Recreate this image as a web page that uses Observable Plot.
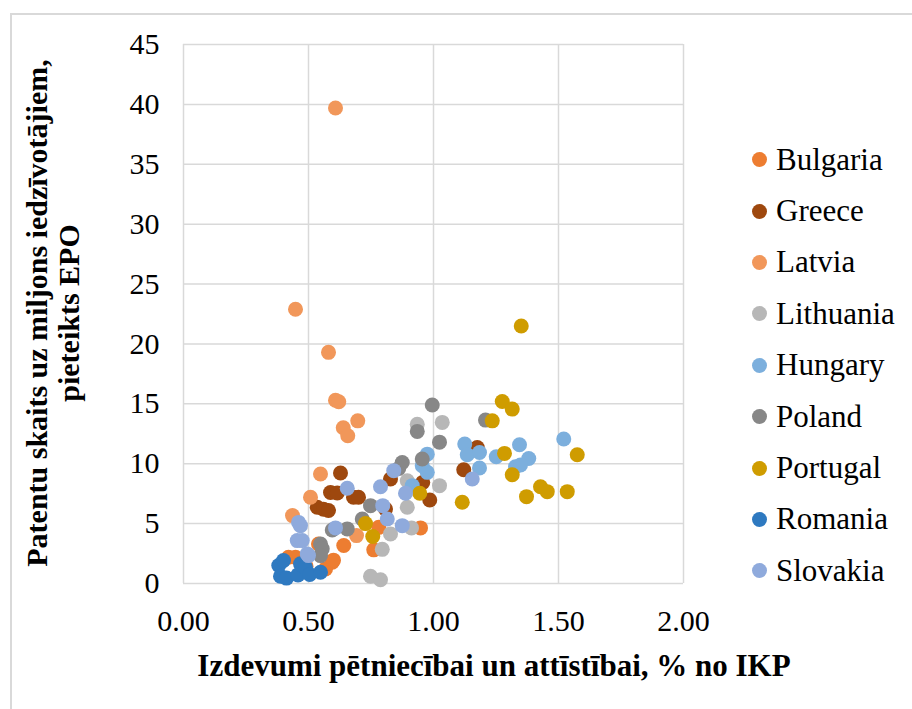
<!DOCTYPE html>
<html>
<head>
<meta charset="utf-8">
<script src="https://cdn.jsdelivr.net/npm/d3@7"></script>
<script src="https://cdn.jsdelivr.net/npm/@observablehq/plot@0.6"></script>
<style>
  html, body { margin: 0; padding: 0; background: #fff; }
  #wrap { position: relative; width: 912px; height: 709px; overflow: hidden; font-family: "Liberation Serif", "Times New Roman", serif; color: #000; }
  #chart { position: absolute; left: 0; top: 0; }
  #frame { position: absolute; left: 10px; top: 13px; width: 1000px; height: 800px; border-left: 2px solid #D9D9D9; border-top: 2px solid #D9D9D9; box-sizing: border-box; }
  #ytitle { position: absolute; left: -247px; top: 281px; width: 600px; height: 64px; line-height: 32px; text-align: center; font-weight: bold; font-size: 30px; transform: rotate(-90deg); transform-origin: 50% 50%; white-space: nowrap; font-family: "Liberation Serif", serif; }
  #xtitle { position: absolute; left: 94px; top: 648px; width: 800px; text-align: center; font-weight: bold; font-size: 31px; line-height: 36px; white-space: nowrap; font-family: "Liberation Serif", serif; }
  #legend { position: absolute; left: 752px; top: 134px; font-family: "Liberation Serif", serif; }
  .row { height: 51.4px; display: flex; align-items: center; font-size: 31px; font-family: "Liberation Serif", serif; }
  .sw { width: 15px; height: 15px; border-radius: 50%; margin-right: 9px; }
</style>
</head>
<body>
<div id="wrap">
  <div id="frame"></div>
  <div id="chart"></div>
  <div id="ytitle">Patentu skaits uz miljons iedzīvotājiem,<br>pieteikts EPO</div>
  <div id="xtitle">Izdevumi pētniecībai un attīstībai, % no IKP</div>
  <div id="legend"></div>
</div>
<script>
const countries = ["Bulgaria", "Greece", "Latvia", "Lithuania", "Hungary", "Poland", "Portugal", "Romania", "Slovakia"];
const colors = ["#ED7D31", "#9E480E", "#F1975A", "#B7B7B7", "#7CAFDD", "#878787", "#CF9C00", "#2E79C0", "#8FAADC"];
const xTicks = [0, 0.5, 1, 1.5, 2];
const yTicks = [0, 5, 10, 15, 20, 25, 30, 35, 40, 45];

const bulgariaX = [0.42, 0.448, 0.54, 0.568, 0.595, 0.641, 0.761, 0.781, 0.948, 0.49, 0.60];
const bulgariaY = [2.19, 2.19, 3.30, 1.22, 1.78, 3.17, 2.81, 4.69, 4.64, 1.45, 1.95];

const greeceX = [0.628, 0.588, 0.615, 0.68, 0.70, 0.535, 0.56, 0.58, 0.828, 0.957, 0.985, 0.808, 1.121, 1.175];
const greeceY = [9.22, 7.60, 7.55, 7.20, 7.20, 6.36, 6.20, 6.10, 8.72, 8.44, 6.97, 6.22, 9.50, 11.36];

const latviaX = [0.608, 0.448, 0.58, 0.608, 0.621, 0.697, 0.639, 0.657, 0.548, 0.508, 0.436, 0.692];
const latviaY = [39.7, 22.9, 19.3, 15.3, 15.17, 13.58, 13.0, 12.33, 9.14, 7.20, 5.67, 4.0];

const lithuaniaX = [0.748, 0.788, 0.795, 0.828, 0.912, 0.895, 0.895, 1.024, 0.935, 1.035];
const lithuaniaY = [0.60, 0.31, 2.85, 4.14, 4.64, 6.36, 8.58, 8.17, 13.3, 13.45];

const hungaryX = [0.975, 0.955, 0.975, 0.915, 1.125, 1.135, 1.184, 1.251, 1.344, 1.521, 1.381, 1.328, 1.348, 1.184];
const hungaryY = [10.8, 9.83, 9.28, 8.17, 11.64, 10.75, 10.94, 10.58, 11.58, 12.06, 10.44, 9.75, 9.89, 9.64];

const polandX = [0.548, 0.555, 0.548, 0.595, 0.655, 0.715, 0.748, 0.861, 0.875, 0.955, 0.935, 0.995, 1.024, 1.208];
const polandY = [3.30, 2.90, 2.33, 4.47, 4.56, 5.39, 6.50, 9.60, 10.1, 10.4, 12.7, 14.9, 11.8, 13.64];

const portugalX = [0.728, 0.757, 0.945, 1.115, 1.235, 1.275, 1.315, 1.351, 1.284, 1.315, 1.428, 1.455, 1.535, 1.372, 1.575];
const portugalY = [5.0, 3.92, 7.53, 6.78, 13.58, 15.2, 14.56, 21.5, 10.86, 9.08, 8.08, 7.67, 7.67, 7.25, 10.75];

const romaniaX = [0.381, 0.40, 0.388, 0.412, 0.458, 0.468, 0.488, 0.505, 0.548];
const romaniaY = [1.50, 1.92, 0.60, 0.45, 0.72, 1.64, 1.36, 0.75, 0.94];

const slovakiaX = [0.46, 0.468, 0.455, 0.475, 0.495, 0.50, 0.608, 0.655, 0.788, 0.797, 0.815, 0.841, 0.875, 0.888, 1.155];
const slovakiaY = [5.10, 4.83, 3.58, 3.58, 2.47, 2.33, 4.64, 7.95, 8.08, 6.50, 5.39, 9.42, 4.83, 7.53, 8.72];

const seriesX = [bulgariaX, greeceX, latviaX, lithuaniaX, hungaryX, polandX, portugalX, romaniaX, slovakiaX];
const seriesY = [bulgariaY, greeceY, latviaY, lithuaniaY, hungaryY, polandY, portugalY, romaniaY, slovakiaY];

const data = [];
countries.forEach((c, i) => {
  seriesX[i].forEach((x, j) => data.push({country: c, x, y: seriesY[i][j]}));
});

const chart = Plot.plot({
  width: 912,
  height: 709,
  marginLeft: 183,
  marginRight: 229,
  marginTop: 44,
  marginBottom: 126,
  style: {fontFamily: "Liberation Serif", fontSize: "30px", color: "#000", background: "transparent"},
  x: {domain: [0, 2], ticks: xTicks},
  y: {domain: [0, 45], ticks: yTicks},
  color: {domain: countries, range: colors},
  marks: [
    Plot.gridX(xTicks, {stroke: "#D9D9D9", strokeOpacity: 1, strokeWidth: 1.5}),
    Plot.gridY(yTicks, {stroke: "#D9D9D9", strokeOpacity: 1, strokeWidth: 1.5}),
    Plot.axisX(xTicks, {tickSize: 0, tickPadding: 26, tickFormat: d3.format(".2f"), label: null, fill: "#000", fontFamily: "Liberation Serif", fontSize: 30}),
    Plot.axisY(yTicks, {tickSize: 0, tickPadding: 24, label: null, fill: "#000", fontFamily: "Liberation Serif", fontSize: 30}),
    Plot.dot(data, {x: "x", y: "y", fill: "country", r: 7.5, stroke: "none"})
  ]
});
document.getElementById("chart").appendChild(chart);

const legend = document.getElementById("legend");
countries.forEach((c, i) => {
  const row = document.createElement("div");
  row.className = "row";
  const sw = document.createElement("div");
  sw.className = "sw";
  sw.style.background = colors[i];
  const t = document.createElement("span");
  t.textContent = c;
  row.appendChild(sw);
  row.appendChild(t);
  legend.appendChild(row);
});
</script>
</body>
</html>
